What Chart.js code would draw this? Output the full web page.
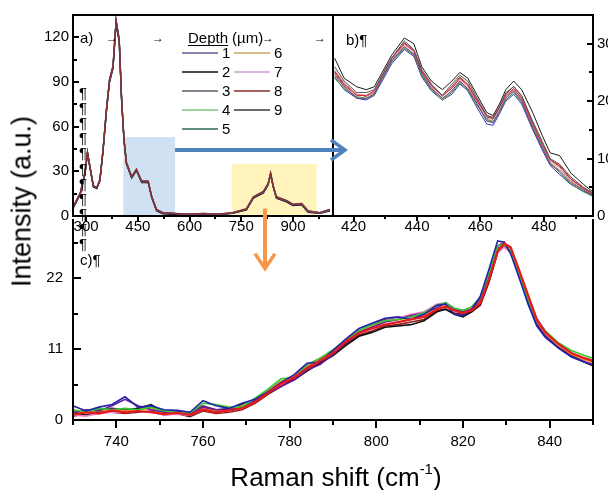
<!DOCTYPE html>
<html>
<head>
<meta charset="utf-8">
<script src="https://cdn.jsdelivr.net/npm/chart.js@4.4.0/dist/chart.umd.min.js"></script>
<style>
    body { margin: 0; background: #fff; }
    #fig { position: relative; width: 608px; height: 490px; overflow: hidden; font-family: Arial, "Liberation Sans", sans-serif; color: #000; }
    #fig canvas { position: absolute; }
    .txt { position: absolute; font-size: 15px; line-height: 15px; white-space: nowrap; }
    .tab { position: absolute; font-size: 12px; line-height: 12px; font-weight: bold; }
    .pil { position: absolute; left: 79px; font-size: 15px; line-height: 15px; }
    #yTitle { position: absolute; left: -138px; top: 188px; width: 320px; font-size: 27px; line-height: 27px; text-align: center; transform: rotate(-90deg); white-space: nowrap; }
    #xTitle { position: absolute; left: 136px; top: 464px; width: 400px; font-size: 26px; line-height: 26px; text-align: center; white-space: nowrap; }
    #xTitle span { position: relative; top: -12px; font-size: 15px; }
</style>
</head>
<body>
<div id="fig">
    <canvas id="chartC" width="608" height="290" style="left:0;top:200px;width:608px;height:290px"></canvas>
    <canvas id="chartA" width="336" height="240" style="left:0;top:0;width:336px;height:240px"></canvas>
    <canvas id="chartB" width="275" height="240" style="left:333px;top:0;width:275px;height:240px"></canvas>
    <canvas id="arrows" width="608" height="490" style="left:0;top:0;width:608px;height:490px"></canvas>

    <div class="txt" style="left:80px;top:30px">a)</div>
    <div class="txt" style="left:346px;top:32px">b)¶</div>
    <div class="txt" style="left:80px;top:252px">c)¶</div>

    <div class="tab" style="left:106px;top:32px">→</div>
    <div class="tab" style="left:152px;top:32px">→</div>
    <div class="tab" style="left:262px;top:32px">→</div>
    <div class="tab" style="left:314px;top:32px">→</div>

    <div class="pil" style="top:85px">¶</div>
    <div class="pil" style="top:100px">¶</div>
    <div class="pil" style="top:115px">¶</div>
    <div class="pil" style="top:130px">¶</div>
    <div class="pil" style="top:145px">¶</div>
    <div class="pil" style="top:161px">¶</div>
    <div class="pil" style="top:176px">¶</div>
    <div class="pil" style="top:191px">¶</div>
    <div class="pil" style="top:206px">¶</div>
    <div class="pil" style="top:221px">¶</div>
    <div class="pil" style="top:236px">¶</div>

    <div id="yTitle">Intensity (a.u.)</div>
    <div id="xTitle">Raman shift (cm<span>-1</span>)</div>
</div>

<script>
// ---- panel a: full spectrum, one line per depth ----
const shiftA = [263, 283, 297, 304, 311, 321, 331, 340, 349, 359, 368, 378, 387, 396, 403, 410, 417, 432, 446, 461, 480, 490, 504, 523, 560, 600, 640, 680, 725, 765, 785, 814, 828, 835, 843, 852, 881, 900, 925, 944, 978, 1007];
const a1 = [6, 15, 29, 43, 33, 20, 19, 24, 44, 71, 91, 100, 131, 118, 78, 51, 36, 26, 31, 23, 23, 13, 4, 2, 1.5, 1, 1.5, 1, 2, 4.5, 12.5, 16, 21.5, 28.5, 19.5, 12.5, 10, 7.5, 8, 3, 2, 4];
const a2 = [5.5, 14.5, 28.5, 42, 32.5, 19.5, 18.5, 23.5, 43, 70, 90, 99, 129, 117, 77, 50, 35, 25.5, 30.5, 22.5, 22.5, 12.5, 3.5, 1.5, 1, 0.8, 1.2, 0.8, 1.8, 4, 12, 15.5, 21, 28, 19, 12, 9.5, 7, 7.5, 2.5, 1.8, 3.5];
const a3 = [6.5, 15.5, 29.5, 42.5, 33.5, 20.5, 19, 24.5, 44.5, 72, 92, 101, 132, 119, 79, 51.5, 36, 26.5, 31.5, 23.5, 23.5, 13.5, 4.5, 2.2, 1.8, 1.2, 1.7, 1.2, 2.2, 5, 13, 16.5, 22, 29, 20, 13, 10.5, 8, 8.5, 3.5, 2.2, 4.5];
const a4 = [6, 14.8, 29, 41.5, 32.8, 20, 18.8, 24.2, 43.8, 71.5, 91.5, 100.5, 130, 118.5, 78.5, 50.5, 35.5, 26, 31, 23, 22.8, 13, 4, 1.8, 1.4, 1, 1.4, 0.9, 2, 4.6, 12.6, 16.2, 21.6, 28.2, 19.6, 12.4, 9.8, 7.6, 7.8, 2.8, 2, 4.2];
const a5 = [5.8, 15.2, 29.2, 42.2, 33.2, 19.8, 18.4, 23.8, 43.6, 70.5, 90.5, 99.5, 130.5, 117.5, 77.5, 50.8, 35.2, 25.8, 30.8, 22.8, 23.2, 12.8, 3.8, 2, 1.6, 1.1, 1.6, 1.1, 1.9, 4.4, 12.4, 15.8, 21.4, 28.4, 19.4, 12.6, 10.2, 7.4, 8.2, 3.2, 2.1, 3.8];
const a6 = [6.2, 15.4, 29.6, 42.8, 33.6, 20.2, 18.8, 24.4, 44.2, 71.2, 91.2, 100.2, 131.5, 118.2, 78.2, 51.2, 35.8, 26.2, 31.2, 23.2, 23, 13.2, 4.2, 2.1, 1.5, 0.9, 1.5, 1, 2.1, 4.5, 12.5, 16.1, 21.5, 28.6, 19.5, 12.5, 10, 7.5, 8, 3, 1.9, 4];
const a7 = [5.6, 14.6, 28.8, 41.8, 32.6, 19.6, 18.6, 23.6, 43.4, 70.8, 90.8, 99.8, 129.5, 117.8, 77.8, 50.6, 35.4, 25.6, 30.6, 22.6, 22.6, 12.6, 3.6, 1.7, 1.3, 0.9, 1.3, 0.9, 1.7, 4.2, 12.2, 15.6, 21.2, 28, 19.2, 12.2, 9.6, 7.2, 7.6, 2.6, 1.7, 3.6];
const a8 = [6.4, 15.6, 29.8, 43.2, 33.8, 20.4, 19.2, 24.6, 44.6, 71.8, 91.8, 100.8, 131, 118.8, 78.8, 51.4, 36.2, 26.4, 31.4, 23.4, 23.4, 13.4, 4.4, 2.3, 1.7, 1.3, 1.8, 1.3, 2.3, 4.8, 12.8, 16.4, 21.8, 28.8, 19.8, 12.8, 10.4, 7.8, 8.4, 3.4, 2.3, 4.4];
const a9 = [6.1, 15.1, 29.1, 42.4, 33.1, 20.1, 18.9, 24.1, 44.1, 71.4, 91.4, 100.4, 130.8, 118.4, 78.4, 51.1, 35.7, 26.1, 31.1, 23.1, 23.1, 13.1, 4.1, 2, 1.5, 1, 1.5, 1, 2, 4.5, 12.5, 16, 21.5, 28.5, 19.5, 12.5, 10, 7.5, 8, 3, 2, 4];
const depthLabels = ['1', '2', '3', '4', '5', '6', '7', '8', '9'];
const depthColors = ['#6b5b95', '#111111', '#5c5c6e', '#7cc47c', '#2f6b4f', '#c9a85c', '#c9a3cf', '#8b2e2e', '#3a3a44'];
const ticksAx = [300, 450, 600, 750, 900];
const ticksAy = [0, 30, 60, 90, 120];
// shaded windows that are enlarged in b) and c): [from, to, height]
const blueBox = [408, 558, 53];
const yellowBox = [722, 969, 35];

// ---- panel b: 414-495 cm-1 zoom ----
const shiftB = [414, 417, 421, 424, 426.5, 429, 432, 436, 439, 441.5, 444.5, 448, 451, 453.5, 456, 459, 462, 464, 466, 468, 470.5, 473, 476.5, 479.5, 482, 485, 488.5, 492.5, 495.5];
const b1 = [27.5, 24, 22.5, 22, 22.5, 25, 28, 31, 30, 26, 23.5, 22, 23.5, 25, 24, 21, 18, 17.5, 19.5, 22, 23.5, 22, 18, 14, 11, 10.5, 7.5, 5.5, 4.2];
const b2 = [26, 23.5, 21.5, 21.5, 22, 24.5, 27.5, 30.5, 29, 25.5, 23, 21, 23, 24.5, 23.5, 20.5, 17.5, 17, 19, 21.5, 22.5, 21, 16.5, 13, 10, 9, 6.8, 5, 4];
const b3 = [25, 22.8, 21, 21, 21.8, 24.5, 27.5, 30, 28.8, 25.2, 22.8, 21, 22.2, 24, 22.8, 20, 17.5, 17.2, 19, 21, 22.2, 20.5, 16, 12.5, 9.8, 8.8, 6.5, 4.8, 3.8];
const b4 = [24.5, 22.5, 20.5, 20.5, 21.2, 24, 27, 29.5, 28.2, 24.8, 22.2, 20.5, 21.8, 23.5, 22.2, 19.5, 16.5, 16.2, 18.2, 20.5, 21.8, 20, 15.2, 11.8, 9, 7.8, 5.8, 4.5, 3.5];
const b5 = [24, 22.2, 20.8, 20.5, 21, 23.8, 26.8, 29.2, 28, 24.5, 22, 20.2, 21.5, 23.2, 22, 19.2, 16.8, 16.5, 18, 20.2, 21.5, 19.8, 15.5, 12, 9.2, 7.5, 5.6, 4.2, 3.4];
const b6 = [24.2, 22, 20.5, 20.2, 21, 23.5, 26.5, 29, 27.8, 24.2, 21.8, 20.2, 21.2, 23, 21.8, 18.8, 16, 15.8, 17.8, 20, 21.2, 19.5, 15, 11.5, 8.8, 7.2, 5.5, 4.3, 3.6];
const b7 = [25.5, 23.2, 21.2, 21, 21.6, 24.2, 27.2, 29.8, 28.6, 25, 22.6, 20.8, 22.4, 23.8, 22.6, 19.8, 17, 16.8, 18.6, 20.8, 22, 20.4, 15.8, 12.4, 9.5, 8.4, 6.2, 4.8, 3.9];
const b8 = [24.8, 22.6, 20.6, 20.4, 21.4, 24, 27, 29.4, 28.2, 24.8, 22.4, 20.4, 21.8, 23.4, 22.2, 19.4, 16.6, 16.4, 18.4, 20.6, 21.8, 20.1, 15.4, 12, 9.2, 8, 6, 4.6, 3.7];
const b9 = [25.2, 23, 21.2, 20.8, 21.6, 24.4, 27.4, 30.2, 28.8, 25.2, 22.8, 20.8, 22.6, 24.2, 23, 20.2, 17.2, 17, 18.8, 21.2, 22.6, 20.8, 16.2, 12.6, 9.8, 8.6, 6.4, 4.9, 3.9];
const colorsB = ['#1a1a1a', '#555555', '#d62728', '#7b3f9e', '#3a9a3a', '#2a3ab0', '#e07ab8', '#9a8a30', '#8b4a2a'];
const ticksBx = [420, 440, 460, 480];
const ticksBy = [0, 10, 20, 30];

// ---- panel c: 730-850 cm-1 zoom ----
const shiftC = [730, 733, 736, 739, 742, 745, 748, 751, 754, 757, 760, 763, 766, 769, 772, 775, 778, 781, 784, 787, 790, 793, 796, 799, 802, 805, 808, 811, 814, 816, 818, 820, 822, 824, 826, 828, 829.5, 831, 833, 835, 837, 839, 842, 845, 848, 850];
const c1 = [0.8, 1.2, 1.0, 1.5, 1.2, 1.4, 1.2, 0.9, 1.1, 0.8, 1.6, 1.2, 1.5, 1.8, 2.8, 4.2, 5.6, 6.6, 8.0, 9.2, 10.4, 12.2, 13.5, 14.2, 14.8, 15.2, 15.6, 16.0, 17.2, 17.6, 17.0, 16.6, 17.0, 18.2, 21.8, 26.2, 27.4, 26.8, 23.2, 19.4, 15.6, 13.6, 11.8, 10.4, 9.6, 9.2];
const c2 = [2.2, 1.4, 2.0, 2.4, 3.6, 2.0, 2.2, 1.6, 1.5, 1.2, 3.0, 2.2, 1.8, 2.6, 3.2, 4.4, 5.8, 7.0, 8.8, 9.0, 10.8, 12.6, 14.2, 15.0, 15.8, 16.0, 15.6, 16.4, 17.8, 18.0, 16.4, 16.2, 17.2, 19.2, 23.4, 27.8, 27.6, 25.8, 22.0, 18.0, 14.6, 12.8, 11.2, 9.8, 9.0, 8.6];
const c3 = [1.6, 1.2, 1.8, 1.6, 1.8, 1.6, 2.0, 1.4, 1.2, 1.1, 2.6, 2.4, 2.0, 2.0, 3.4, 4.8, 6.4, 6.6, 8.6, 9.6, 10.9, 12.4, 13.9, 14.8, 15.4, 15.6, 16.0, 16.6, 17.8, 18.2, 17.4, 17.0, 17.6, 19.0, 22.8, 27.0, 27.4, 26.2, 22.4, 18.8, 15.4, 13.8, 12.0, 10.8, 10.0, 9.6];
const c4 = [1.0, 1.6, 1.4, 2.2, 3.2, 2.2, 1.6, 1.2, 1.4, 0.9, 2.0, 1.6, 1.6, 2.0, 3.0, 4.2, 5.2, 6.2, 7.8, 8.6, 10.2, 12.0, 13.6, 14.4, 15.2, 15.6, 16.2, 16.6, 17.4, 18.2, 17.2, 16.8, 17.2, 18.8, 22.6, 27.0, 27.6, 26.0, 22.2, 18.4, 14.8, 13.0, 11.2, 9.8, 9.0, 8.4];
const c5 = [1.2, 1.0, 1.4, 1.6, 1.4, 1.6, 1.8, 1.0, 1.2, 1.0, 1.8, 1.4, 1.6, 2.2, 3.2, 4.6, 6.0, 7.0, 8.4, 9.6, 10.6, 12.2, 13.8, 14.6, 15.4, 15.6, 15.8, 16.2, 17.6, 17.8, 17.0, 16.8, 17.4, 18.4, 22.0, 26.4, 27.2, 26.4, 22.8, 19.0, 15.4, 13.4, 11.6, 10.2, 9.4, 8.8];
const c6 = [0.8, 0.6, 1.0, 1.2, 1.2, 1.4, 1.2, 0.8, 0.9, 0.7, 1.6, 1.2, 1.4, 1.8, 3.4, 4.6, 5.4, 6.8, 8.6, 9.2, 10.6, 12.4, 13.8, 14.6, 15.4, 15.8, 16.4, 16.8, 18.0, 18.2, 17.2, 16.8, 17.4, 18.2, 22.0, 26.0, 26.8, 26.0, 22.6, 19.2, 15.8, 13.6, 11.6, 10.4, 9.6, 9.2];
const c7 = [1.0, 0.8, 1.2, 1.4, 1.4, 1.8, 2.4, 1.2, 1.0, 0.6, 1.8, 1.4, 1.6, 2.4, 3.0, 4.4, 5.6, 6.2, 7.6, 8.8, 10.0, 11.6, 13.0, 13.6, 14.4, 14.6, 14.8, 15.4, 16.8, 17.2, 16.4, 16.0, 16.8, 18.0, 21.6, 26.0, 27.0, 26.4, 22.8, 19.2, 15.6, 13.4, 11.4, 10.0, 9.0, 8.4];
const c8 = [0.6, 1.0, 1.2, 1.2, 1.0, 1.2, 1.4, 0.8, 1.0, 0.5, 1.4, 1.0, 1.2, 1.6, 2.6, 4.0, 5.2, 6.4, 7.8, 8.8, 10.2, 11.8, 13.2, 13.8, 14.6, 14.8, 15.2, 15.6, 17.0, 17.2, 16.6, 16.4, 16.8, 17.8, 21.4, 26.0, 27.2, 26.6, 23.0, 19.4, 15.8, 13.8, 11.8, 10.4, 9.4, 8.8];
const c9 = [1.4, 1.2, 1.6, 1.8, 1.6, 1.8, 2.0, 1.4, 1.4, 1.2, 2.2, 1.6, 1.8, 2.2, 3.2, 4.6, 6.0, 6.8, 8.2, 9.4, 10.8, 12.4, 13.8, 14.8, 15.6, 15.8, 16.0, 16.4, 17.8, 18.0, 17.2, 17.0, 17.4, 18.6, 22.4, 26.6, 27.2, 26.2, 22.4, 18.6, 15.0, 13.2, 11.4, 10.2, 9.4, 9.0];
const colorsC = ['#e41a1c', '#2222aa', '#33cc33', '#6a1b9a', '#ff9933', '#ee82c8', '#111111', '#8b1a1a', '#5a2a5a'];
const ticksCx = [740, 760, 780, 800, 820, 840];
const ticksCy = [0, 11, 22];

Chart.defaults.font.family = 'Arial, "Liberation Sans", sans-serif';
Chart.defaults.font.size = 15;
Chart.defaults.color = '#000';

function toPoints(xs, ys) {
    return xs.map((x, i) => ({ x: x, y: ys[i] }));
}

function midpoints(vals, step) {
    // minor ticks sit halfway between the labelled ones
    const out = vals.map(v => v + step / 2);
    out.unshift(vals[0] - step / 2);
    return out;
}

// black box lines around the plotting area
const frame = {
    id: 'frame',
    afterDraw(chart, args, opts) {
        const { left, right, top, bottom } = chart.chartArea;
        const ctx = chart.ctx;
        ctx.save();
        ctx.strokeStyle = '#000';
        ctx.lineWidth = 2;
        ctx.beginPath();
        const sides = opts.sides || 'tlrb';
        if (sides.includes('t')) { ctx.moveTo(left - 1, top); ctx.lineTo(right + 1, top); }
        if (sides.includes('b')) { ctx.moveTo(left - 1, bottom); ctx.lineTo(right + 1, bottom); }
        if (sides.includes('l')) { ctx.moveTo(left, top); ctx.lineTo(left, bottom + 1); }
        if (sides.includes('r')) { ctx.moveTo(right, top); ctx.lineTo(right, bottom + 1); }
        ctx.stroke();
        ctx.restore();
    }
};

// major + minor tick marks; dir +1 points down / right, -1 up / left
const tickMarks = {
    id: 'tickMarks',
    afterDraw(chart, args, opts) {
        const ctx = chart.ctx;
        const area = chart.chartArea;
        ctx.save();
        ctx.strokeStyle = '#000';
        ctx.lineWidth = 2;
        (opts.marks || []).forEach(m => {
            const s = chart.scales[m.scale];
            const mark = (v, len) => {
                if (v < s.min || v > s.max) return;
                const p = Math.round(s.getPixelForValue(v));
                ctx.beginPath();
                if (s.isHorizontal()) {
                    ctx.moveTo(p, area.bottom);
                    ctx.lineTo(p, area.bottom + m.dir * len);
                } else {
                    const x = s.position === 'right' ? area.right : area.left;
                    ctx.moveTo(x, p);
                    ctx.lineTo(x + m.dir * len, p);
                }
                ctx.stroke();
            };
            m.major.forEach(v => mark(v, m.len));
            m.minor.forEach(v => mark(v, Math.round(m.len * 0.6)));
        });
        ctx.restore();
    }
};

// shaded windows behind the spectra of panel a
const windows = {
    id: 'windows',
    beforeDatasetsDraw(chart) {
        const ctx = chart.ctx;
        const x = chart.scales.x, y = chart.scales.y;
        const fill = (box, color) => {
            const x0 = x.getPixelForValue(box[0]);
            const x1 = x.getPixelForValue(box[1]);
            const y0 = y.getPixelForValue(box[2]);
            ctx.fillStyle = color;
            ctx.fillRect(x0, y0, x1 - x0, chart.chartArea.bottom - y0);
        };
        ctx.save();
        fill(blueBox, 'rgba(198, 217, 241, 0.8)');
        fill(yellowBox, 'rgba(255, 242, 165, 0.75)');
        ctx.restore();
    }
};

// "Depth (µm)" key in two columns
const depthKey = {
    id: 'depthKey',
    afterDraw(chart) {
        const ctx = chart.ctx;
        const ds = chart.data.datasets;
        ctx.save();
        ctx.font = '15px Arial, "Liberation Sans", sans-serif';
        ctx.fillStyle = '#000';
        ctx.textBaseline = 'alphabetic';
        ctx.fillText('Depth', 188, 43);
        const w = ctx.measureText('Depth').width;
        ctx.fillRect(188, 45, w, 1);
        ctx.fillText('(µm)', 188 + w + 4, 43);
        ds.forEach((d, i) => {
            const col = i < 5 ? 0 : 1;
            const row = i < 5 ? i : i - 5;
            const x = 182 + col * 52;
            const y = 53 + row * 19;
            ctx.strokeStyle = d.borderColor;
            ctx.lineWidth = 1.6;
            ctx.beginPath();
            ctx.moveTo(x, y);
            ctx.lineTo(x + 36, y);
            ctx.stroke();
            ctx.textBaseline = 'middle';
            ctx.fillText(d.label, x + 40, y + 1);
        });
        ctx.restore();
    }
};

function fixedTicks(values) {
    return scale => { scale.ticks = values.map(v => ({ value: v })); };
}

const seriesA = [a1, a2, a3, a4, a5, a6, a7, a8, a9];
const chartA = new Chart(document.getElementById('chartA'), {
    type: 'line',
    data: {
        datasets: seriesA.map((ys, i) => ({
            label: depthLabels[i],
            data: toPoints(shiftA, ys),
            borderColor: depthColors[i],
            borderWidth: 1.3,
            pointRadius: 0,
            order: i === 7 ? -1 : i
        }))
    },
    options: {
        responsive: false,
        animation: false,
        events: [],
        layout: { padding: { top: 15, right: 3, left: 0, bottom: 0 } },
        plugins: {
            legend: { display: false },
            tooltip: { enabled: false },
            frame: { sides: 'tlrb' },
            tickMarks: {
                marks: [
                    { scale: 'x', major: ticksAx, minor: midpoints(ticksAx, 150), dir: 1, len: 5 },
                    { scale: 'y', major: ticksAy, minor: midpoints(ticksAy, 30), dir: 1, len: 6 }
                ]
            }
        },
        scales: {
            x: {
                type: 'linear', min: 262, max: 1016,
                grid: { display: false, drawTicks: false }, border: { display: false },
                ticks: { padding: 2, maxRotation: 0, autoSkip: false },
                afterBuildTicks: fixedTicks(ticksAx),
                afterFit: s => { s.height = 24; }
            },
            y: {
                min: 0, max: 135,
                grid: { display: false, drawTicks: false }, border: { display: false },
                ticks: { padding: 4 },
                afterBuildTicks: fixedTicks(ticksAy),
                afterFit: s => { s.width = 73; }
            }
        }
    },
    plugins: [windows, frame, tickMarks, depthKey]
});

const seriesB = [b1, b2, b3, b4, b5, b6, b7, b8, b9];
const chartB = new Chart(document.getElementById('chartB'), {
    type: 'line',
    data: {
        datasets: seriesB.map((ys, i) => ({
            label: depthLabels[i],
            data: toPoints(shiftB, ys),
            borderColor: colorsB[i],
            borderWidth: 1,
            pointRadius: 0
        }))
    },
    options: {
        responsive: false,
        animation: false,
        events: [],
        layout: { padding: { top: 15, right: 0, left: 0, bottom: 0 } },
        plugins: {
            legend: { display: false },
            tooltip: { enabled: false },
            frame: { sides: 'tlrb' },
            tickMarks: {
                marks: [
                    { scale: 'x', major: ticksBx, minor: midpoints(ticksBx, 20), dir: 1, len: 5 },
                    { scale: 'y', major: ticksBy, minor: midpoints(ticksBy, 10), dir: -1, len: 6 }
                ]
            }
        },
        scales: {
            x: {
                type: 'linear', min: 413.5, max: 495.5,
                grid: { display: false, drawTicks: false }, border: { display: false },
                ticks: { padding: 2, maxRotation: 0, autoSkip: false },
                afterBuildTicks: fixedTicks(ticksBx),
                afterFit: s => { s.height = 24; }
            },
            y: {
                position: 'right', min: 0, max: 35,
                grid: { display: false, drawTicks: false }, border: { display: false },
                ticks: { padding: 4 },
                afterBuildTicks: fixedTicks(ticksBy),
                afterFit: s => { s.width = 15; }
            }
        }
    },
    plugins: [frame, tickMarks]
});

const seriesC = [c1, c2, c3, c4, c5, c6, c7, c8, c9];
const chartC = new Chart(document.getElementById('chartC'), {
    type: 'line',
    data: {
        datasets: seriesC.map((ys, i) => ({
            label: depthLabels[i],
            data: toPoints(shiftC, ys),
            borderColor: colorsC[i],
            borderWidth: i === 0 ? 2.2 : 1.6,
            pointRadius: 0
        }))
    },
    options: {
        responsive: false,
        animation: false,
        events: [],
        layout: { padding: { top: 17, right: 15, left: 0, bottom: 0 } },
        plugins: {
            legend: { display: false },
            tooltip: { enabled: false },
            frame: { sides: 'lrb' },
            tickMarks: {
                marks: [
                    { scale: 'x', major: ticksCx, minor: midpoints(ticksCx, 20), dir: 1, len: 8 },
                    { scale: 'y', major: ticksCy, minor: midpoints(ticksCy, 11), dir: 1, len: 8 }
                ]
            }
        },
        scales: {
            x: {
                type: 'linear', min: 730, max: 850,
                grid: { display: false, drawTicks: false }, border: { display: false },
                ticks: { padding: 13, maxRotation: 0, autoSkip: false },
                afterBuildTicks: fixedTicks(ticksCx),
                afterFit: s => { s.height = 70; }
            },
            y: {
                min: 0, max: 31.2,
                grid: { display: false, drawTicks: false }, border: { display: false },
                ticks: { padding: 10 },
                afterBuildTicks: fixedTicks(ticksCy),
                afterFit: s => { s.width = 73; }
            }
        }
    },
    plugins: [frame, tickMarks]
});

// arrows linking the shaded windows of a) to the zoomed panels
function drawArrows() {
    const ctx = document.getElementById('arrows').getContext('2d');
    const ax = chartA.scales.x, ay = chartA.scales.y;
    const bLeft = 333 + chartB.chartArea.left;
    ctx.lineCap = 'butt';
    ctx.lineJoin = 'miter';

    // blue: 400-560 window -> panel b
    const yb = Math.round(ay.getPixelForValue(44));
    const xb0 = ax.getPixelForValue(blueBox[1]);
    const xb1 = bLeft + 12;
    ctx.strokeStyle = '#4f81bd';
    ctx.lineWidth = 4;
    ctx.beginPath();
    ctx.moveTo(xb0, yb);
    ctx.lineTo(xb1 - 3, yb);
    ctx.stroke();
    ctx.lineWidth = 3.5;
    ctx.beginPath();
    ctx.moveTo(xb1 - 14, yb - 10);
    ctx.lineTo(xb1, yb);
    ctx.lineTo(xb1 - 14, yb + 10);
    ctx.stroke();

    // orange: 720-970 window -> panel c
    const xo = Math.round(ax.getPixelForValue(820));
    const yo0 = ay.getPixelForValue(5);
    const yo1 = 200 + chartC.scales.y.getPixelForValue(23.5);
    ctx.strokeStyle = '#f79646';
    ctx.lineWidth = 4;
    ctx.beginPath();
    ctx.moveTo(xo, yo0);
    ctx.lineTo(xo, yo1 - 3);
    ctx.stroke();
    ctx.lineWidth = 3.5;
    ctx.beginPath();
    ctx.moveTo(xo - 10, yo1 - 15);
    ctx.lineTo(xo, yo1);
    ctx.lineTo(xo + 10, yo1 - 15);
    ctx.stroke();
}
drawArrows();
</script>
</body>
</html>
